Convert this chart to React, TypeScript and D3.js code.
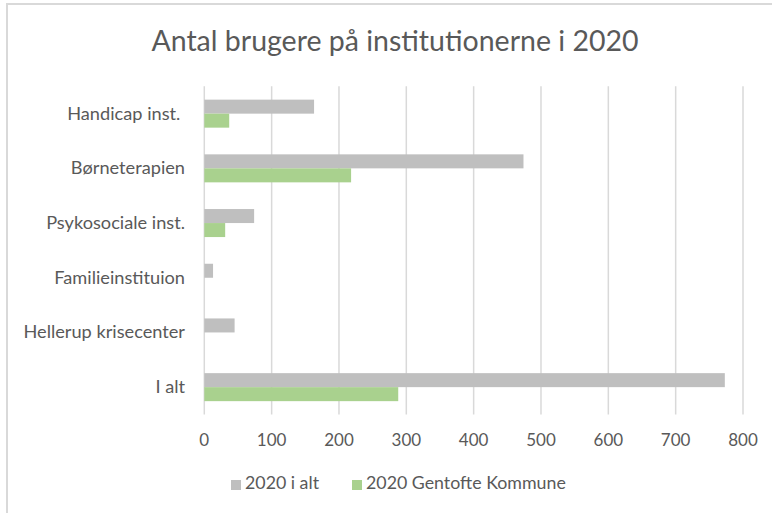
import React, { useRef, useEffect } from 'react';
import * as d3 from 'd3';

const categories = ['Handicap inst. ', 'Børneterapien', 'Psykosociale inst.', 'Familieinstituion', 'Hellerup krisecenter', 'I alt'];
const seriesNames = ['2020 i alt', '2020 Gentofte Kommune'];
const totalValues = [163, 474, 74, 13, 45, 773];
const gentofteValues = [37, 218, 31, 0, 0, 288];
const xTicks = [0, 100, 200, 300, 400, 500, 600, 700, 800];
const colors = ['#bfbfbf', '#a9d18e'];

const App = () => {
    const ref = useRef<SVGSVGElement>(null);

    useEffect(() => {
        const svg = d3.select(ref.current);
        svg.selectAll('*').remove();
        const font = 'Lato, Carlito, Calibri, sans-serif';
        const textColor = '#595959';

        // chart frame (runs off the right and bottom of the picture)
        svg.append('path')
            .attr('d', 'M7,513 V4 H772')
            .attr('fill', 'none')
            .attr('stroke', '#d9d9d9')
            .attr('stroke-width', 2);

        svg.append('text')
            .attr('x', 395)
            .attr('y', 51)
            .attr('text-anchor', 'middle')
            .attr('font-family', font)
            .attr('font-size', 28.5)
            .attr('fill', textColor)
            .text('Antal brugere på institutionerne i 2020');

        const x = d3.scaleLinear().domain([0, 800]).range([204.3, 743]);
        const y = d3.scaleBand<string>()
            .domain(categories)
            .range([86.3, 414.5])
            .paddingInner(0.488)
            .paddingOuter(0.244);
        const ySub = d3.scaleBand<string>().domain(seriesNames).range([0, y.bandwidth()]);

        // gridlines
        svg.append('g').selectAll('line')
            .data(xTicks)
            .enter().append('line')
            .attr('x1', d => x(d))
            .attr('x2', d => x(d))
            .attr('y1', 86.3)
            .attr('y2', 414.5)
            .attr('stroke', '#d9d9d9')
            .attr('stroke-width', 1.5);

        const series = [totalValues, gentofteValues];
        series.forEach((vals, si) => {
            svg.append('g').selectAll('rect')
                .data(vals.map((v, i) => ({ v, c: categories[i] })))
                .enter().append('rect')
                .attr('x', x(0))
                .attr('y', d => (y(d.c) as number) + (ySub(seriesNames[si]) as number))
                .attr('width', d => x(d.v) - x(0))
                .attr('height', ySub.bandwidth())
                .attr('fill', colors[si]);
        });

        // category labels
        svg.append('g').selectAll('text')
            .data(categories)
            .enter().append('text')
            .attr('x', 185)
            .attr('y', d => (y(d) as number) + y.bandwidth() / 2 + 6)
            .attr('text-anchor', 'end')
            .attr('font-family', font)
            .attr('font-size', 18.2)
            .attr('fill', textColor)
            .style('white-space', 'pre')
            .text(d => d);

        // x tick labels
        svg.append('g').selectAll('text')
            .data(xTicks)
            .enter().append('text')
            .attr('x', d => x(d))
            .attr('y', 446)
            .attr('text-anchor', 'middle')
            .attr('font-family', font)
            .attr('font-size', 17)
            .attr('fill', textColor)
            .text(d => d);

        // legend
        const legendX = [231, 352];
        seriesNames.forEach((name, i) => {
            svg.append('rect')
                .attr('x', legendX[i])
                .attr('y', 480)
                .attr('width', 10)
                .attr('height', 10)
                .attr('fill', colors[i]);
            svg.append('text')
                .attr('x', legendX[i] + 14)
                .attr('y', 489)
                .attr('font-family', font)
                .attr('font-size', 17.8)
                .attr('fill', textColor)
                .text(name);
        });
    }, []);

    return (
        <svg ref={ref} width="772" height="513" style={{ position: 'absolute', left: 0, top: 0, background: '#fff' }}></svg>
    );
};

export default App;
